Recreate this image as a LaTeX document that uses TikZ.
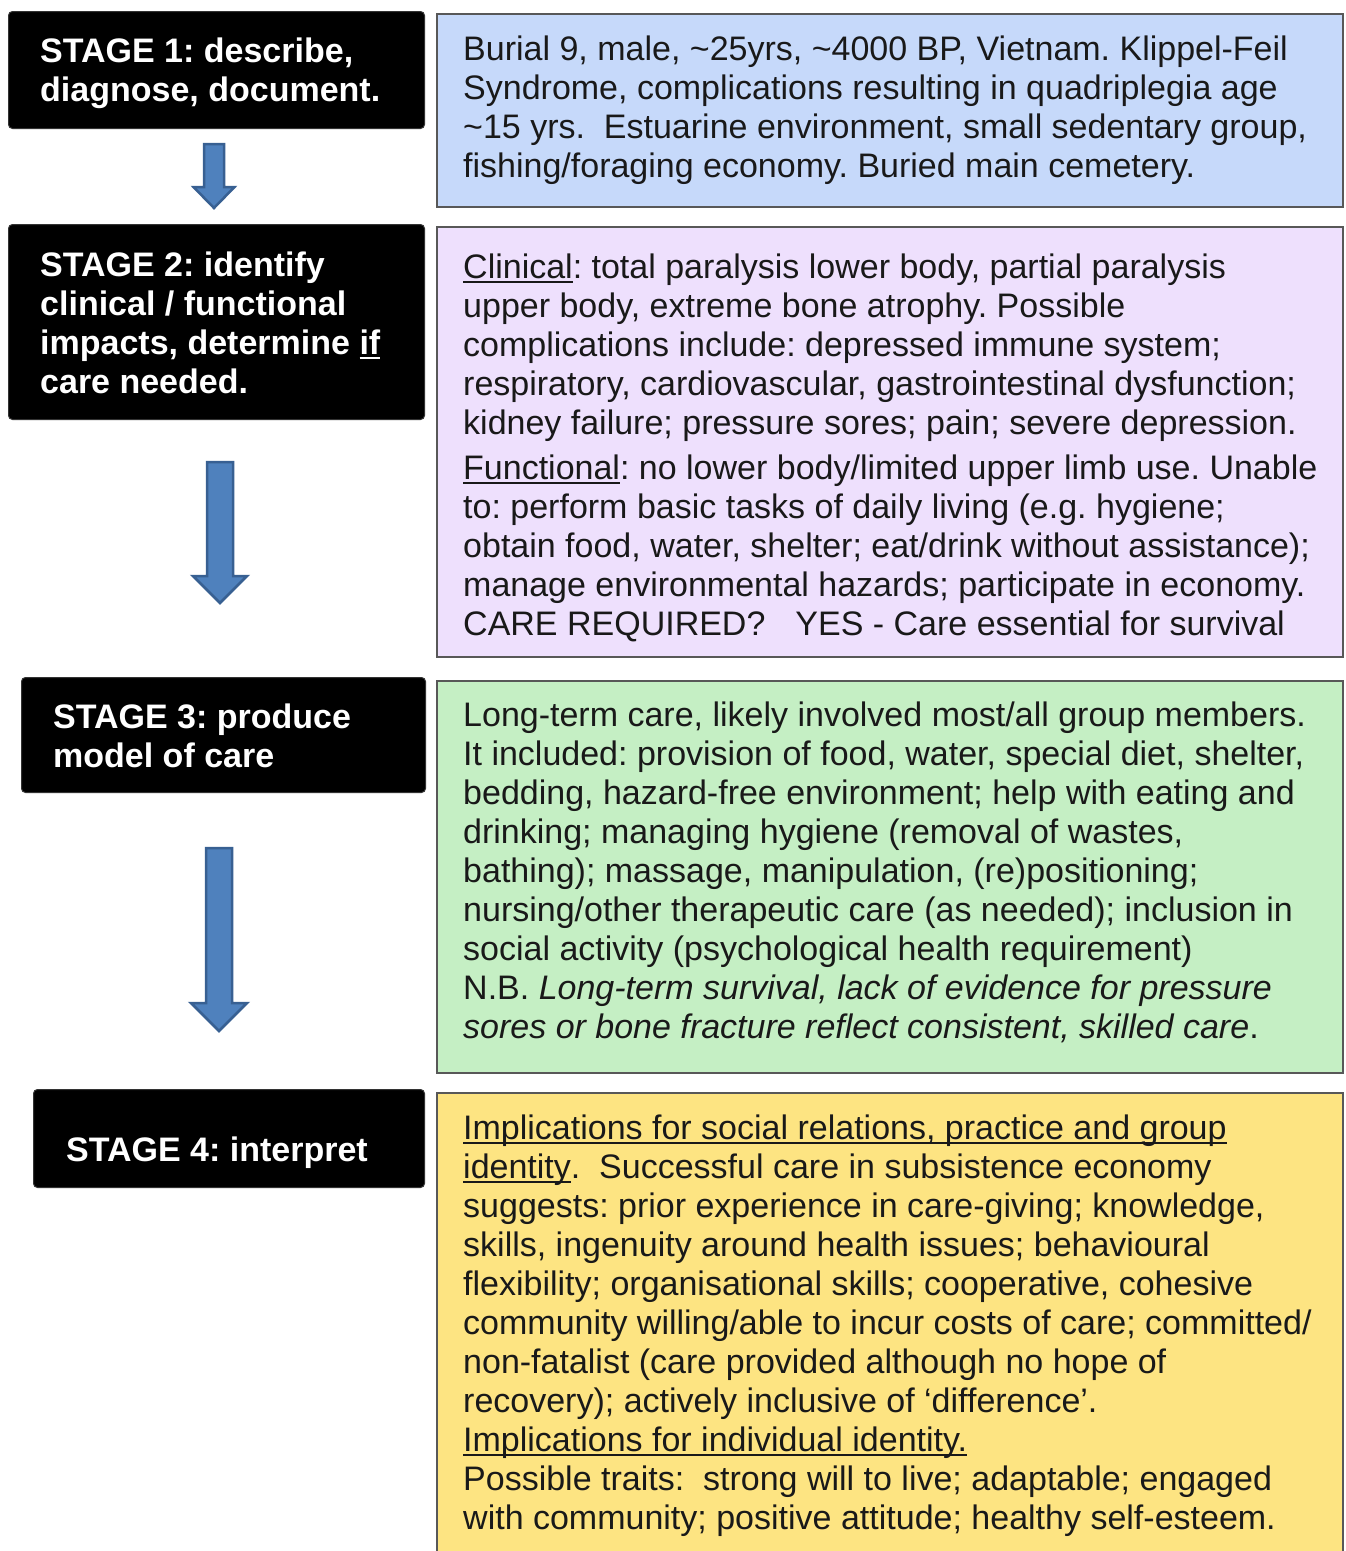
\documentclass[tikz,border=0pt]{standalone}
\usepackage{fontspec}
\setmainfont{Liberation Sans}
\usetikzlibrary{calc}

\definecolor{bluefill}{RGB}{198,217,250}
\definecolor{lilacfill}{RGB}{238,224,253}
\definecolor{greenfill}{RGB}{197,239,196}
\definecolor{yellowfill}{RGB}{253,228,130}
\definecolor{boxline}{RGB}{88,88,88}
\definecolor{arrowfill}{RGB}{79,129,189}
\definecolor{arrowline}{RGB}{56,96,146}
\definecolor{bodytext}{RGB}{25,25,25}

% underline at a fixed depth, crossing descenders
\newcommand\undl[1]{\leavevmode\setbox0\hbox{#1}\rlap{\rule[-4.5pt]{\wd0}{1.7pt}}\box0}
% a block of left-aligned lines, baseline on the first line
\newcommand\lines[1]{\parbox[t]{900pt}{\raggedright\frenchspacing\leavevmode#1}}
% block arrow pointing down: centre x, top, head start, tip, half shaft, half head
\newcommand\blockarrow[6]{%
  \draw[arrowshape] ({#1-#5},#2) -- ({#1+#5},#2) -- ({#1+#5},#3) -- ({#1+#6},#3)
    -- (#1,#4) -- ({#1-#6},#3) -- ({#1-#5},#3) -- cycle;}

\tikzset{
  stagebox/.style={draw=black!80, fill=black, rounded corners=4pt, line width=1pt,
    anchor=north west, inner sep=0pt},
  infobox/.style={draw=boxline, line width=2pt, anchor=north west, inner sep=0pt},
  stagetext/.style={anchor=base west, inner sep=0pt, text=white,
    font=\fontsize{34}{39}\selectfont\bfseries},
  bodytextstyle/.style={anchor=base west, inner sep=0pt, text=bodytext,
    font=\fontsize{34}{39}\selectfont},
  arrowshape/.style={fill=arrowfill, draw=arrowline, line width=2.5pt, line join=miter},
}

\begin{document}
\begin{tikzpicture}[x=1pt, y=-1pt]
\useasboundingbox (0,0) rectangle (1346,1551);
\fill[white] (0,0) rectangle (1346,1551);

% stage boxes
\node[stagebox, minimum width=416pt, minimum height=117pt] (stage1) at (8,11) {};
\node[stagebox, minimum width=416pt, minimum height=195pt] (stage2) at (8,224) {};
\node[stagebox, minimum width=404pt, minimum height=115pt] (stage3) at (21,677) {};
\node[stagebox, minimum width=391pt, minimum height=98pt] (stage4) at (33,1089) {};

\node[stagetext] (stage1txt) at (40,62) {\lines{STAGE 1: describe,\\diagnose, document.}};
\node[stagetext] (stage2txt) at (40,276) {\lines{STAGE 2: identify\\clinical / functional\\impacts, determine \undl{if}\\care needed.}};
\node[stagetext] (stage3txt) at (53,728) {\lines{STAGE 3: produce\\model of care}};
\node[stagetext] (stage4txt) at (66,1161) {\lines{STAGE 4: interpret}};

% arrows between the stages
\blockarrow{214}{144}{187}{208}{10}{20.5}
\blockarrow{220}{462}{576}{603}{13}{27}
\blockarrow{219}{848}{1003}{1031}{13}{28}

% information boxes
\node[infobox, fill=bluefill, minimum width=906pt, minimum height=193pt] (info1) at (436,13) {};
\node[infobox, fill=lilacfill, minimum width=906pt, minimum height=430pt] (info2) at (436,226) {};
\node[infobox, fill=greenfill, minimum width=906pt, minimum height=392pt] (info3) at (436,680) {};
\begin{scope}
  \clip (0,0) rectangle (1346,1551);
  \node[infobox, fill=yellowfill, minimum width=906pt, minimum height=480pt] (info4) at (436,1092) {};
\end{scope}

\node[bodytextstyle] (info1txt) at (463,60) {\lines{%
Burial 9, male, \textasciitilde25yrs, \textasciitilde4000 BP, Vietnam. Klippel-Feil\\
Syndrome, complications resulting in quadriplegia age\\
\textasciitilde15 yrs.\ \ Estuarine environment, small sedentary group,\\
fishing/foraging economy. Buried main cemetery.}};

\node[bodytextstyle] (info2txt) at (463,278) {\lines{%
\undl{Clinical}: total paralysis lower body, partial paralysis\\
upper body, extreme bone atrophy. Possible\\
complications include: depressed immune system;\\
respiratory, cardiovascular, gastrointestinal dysfunction;\\
kidney failure; pressure sores; pain; severe depression.\\[6pt]
\undl{Functional}: no lower body/limited upper limb use. Unable\\
to: perform basic tasks of daily living (e.g. hygiene;\\
obtain food, water, shelter; eat/drink without assistance);\\
manage environmental hazards; participate in economy.\\
CARE REQUIRED?\hspace{30pt}YES - Care essential for survival}};

\node[bodytextstyle] (info3txt) at (463,726) {\lines{%
Long-term care, likely involved most/all group members.\\
It included: provision of food, water, special diet, shelter,\\
bedding, hazard-free environment; help with eating and\\
drinking; managing hygiene (removal of wastes,\\
bathing); massage, manipulation, (re)positioning;\\
nursing/other therapeutic care (as needed); inclusion in\\
social activity (psychological health requirement)\\
N.B. \textit{Long-term survival, lack of evidence for pressure}\\
\textit{sores or bone fracture reflect consistent, skilled care}.}};

\node[bodytextstyle] (info4txt) at (463,1139) {\lines{%
\undl{Implications for social relations, practice and group}\\
\undl{identity}.\ \ Successful care in subsistence economy\\
suggests: prior experience in care-giving; knowledge,\\
skills, ingenuity around health issues; behavioural\\
flexibility; organisational skills; cooperative, cohesive\\
community willing/able to incur costs of care; committed/\\
non-fatalist (care provided although no hope of\\
recovery); actively inclusive of ‘difference’.\\
\undl{Implications for individual identity.}\\
Possible traits:\ \ strong will to live; adaptable; engaged\\
with community; positive attitude; healthy self-esteem.}};

\end{tikzpicture}
\end{document}
